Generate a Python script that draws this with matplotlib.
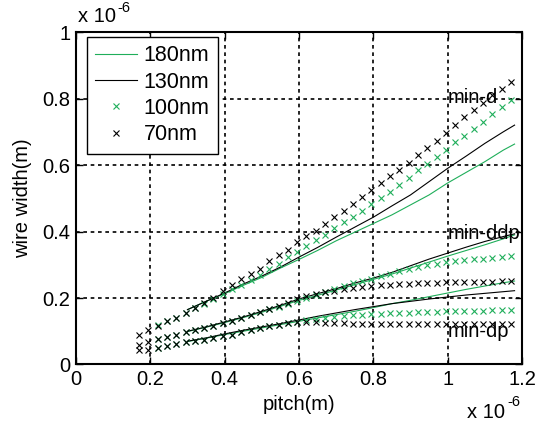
import numpy as np
import matplotlib
matplotlib.use("Agg")
import matplotlib.pyplot as plt

plt.rcParams['font.family'] = ['Liberation Sans', 'DejaVu Sans']

# ---------------- data (units of 1e-6 m) ----------------
pitch_70 = [0.17, 0.195, 0.22, 0.245, 0.27, 0.295, 0.32, 0.345, 0.37, 0.395,
            0.42, 0.445, 0.47, 0.495, 0.52, 0.545, 0.57, 0.595, 0.62, 0.645,
            0.67, 0.695, 0.72, 0.745, 0.77, 0.795, 0.82, 0.845, 0.87, 0.895,
            0.92, 0.945, 0.97, 0.995, 1.02, 1.045, 1.07, 1.095, 1.12, 1.145, 1.17]
pitch_100 = pitch_70[2:]

w70_min_d = [0.09, 0.105, 0.115, 0.13, 0.14, 0.155, 0.17, 0.185, 0.20, 0.22,
             0.24, 0.257, 0.272, 0.288, 0.31, 0.33, 0.345, 0.368, 0.385, 0.402,
             0.423, 0.445, 0.462, 0.482, 0.503, 0.524, 0.546, 0.566, 0.585, 0.607,
             0.63, 0.652, 0.673, 0.695, 0.72, 0.743, 0.765, 0.787, 0.81, 0.83, 0.85]
w70_min_ddp = [0.059, 0.068, 0.077, 0.083, 0.09, 0.097, 0.104, 0.11, 0.117, 0.125,
               0.132, 0.14, 0.15, 0.158, 0.166, 0.176, 0.186, 0.196, 0.205, 0.212,
               0.218, 0.222, 0.226, 0.23, 0.233, 0.235, 0.238, 0.24, 0.242, 0.243,
               0.244, 0.245, 0.246, 0.247, 0.247, 0.248, 0.248, 0.249, 0.249, 0.25, 0.25]
w70_min_dp = [0.044, 0.044, 0.05, 0.056, 0.062, 0.067, 0.071, 0.075, 0.08, 0.085,
              0.09, 0.097, 0.103, 0.11, 0.115, 0.12, 0.125, 0.128, 0.128, 0.127,
              0.126, 0.125, 0.124, 0.123, 0.123, 0.122, 0.122, 0.122, 0.122, 0.121,
              0.121, 0.121, 0.121, 0.121, 0.121, 0.121, 0.121, 0.121, 0.121, 0.121, 0.121]

w100_min_d = [0.12, 0.13, 0.14, 0.155, 0.17, 0.183, 0.197, 0.213,
              0.228, 0.24, 0.255, 0.27, 0.288, 0.303, 0.322, 0.337, 0.356, 0.374,
              0.39, 0.41, 0.428, 0.444, 0.462, 0.482, 0.5, 0.52, 0.54, 0.562,
              0.584, 0.604, 0.625, 0.646, 0.668, 0.688, 0.708, 0.73, 0.752, 0.773, 0.795]
w100_min_ddp = [0.077, 0.083, 0.09, 0.097, 0.104, 0.11, 0.117, 0.125,
                0.132, 0.14, 0.15, 0.158, 0.166, 0.174, 0.183, 0.192, 0.2, 0.21,
                0.218, 0.228, 0.236, 0.244, 0.251, 0.258, 0.265, 0.273, 0.281, 0.287,
                0.293, 0.298, 0.303, 0.307, 0.31, 0.313, 0.316, 0.318, 0.32, 0.323, 0.326]
w100_min_dp = [0.05, 0.056, 0.062, 0.067, 0.071, 0.075, 0.08, 0.085,
               0.09, 0.097, 0.103, 0.11, 0.115, 0.12, 0.125, 0.129, 0.133, 0.137,
               0.14, 0.143, 0.146, 0.148, 0.15, 0.152, 0.153, 0.154, 0.155, 0.156,
               0.157, 0.158, 0.159, 0.16, 0.16, 0.161, 0.162, 0.162, 0.163, 0.164, 0.165]

pitch_line = [0.30, 0.35, 0.40, 0.45, 0.50, 0.55, 0.60, 0.65, 0.70, 0.75,
              0.80, 0.85, 0.90, 0.95, 1.00, 1.05, 1.10, 1.15, 1.18]
w130_min_d = [0.165, 0.19, 0.215, 0.242, 0.266, 0.293, 0.323, 0.352, 0.383, 0.413,
              0.443, 0.477, 0.51, 0.55, 0.59, 0.627, 0.665, 0.70, 0.72]
w180_min_d = [0.165, 0.19, 0.213, 0.238, 0.262, 0.29, 0.316, 0.343, 0.372, 0.398,
              0.424, 0.45, 0.48, 0.51, 0.546, 0.578, 0.61, 0.645, 0.663]
w130_min_ddp = [0.10, 0.113, 0.128, 0.143, 0.16, 0.178, 0.197, 0.213, 0.228, 0.245,
                0.26, 0.277, 0.297, 0.317, 0.335, 0.353, 0.37, 0.385, 0.393]
w180_min_ddp = [0.099, 0.112, 0.126, 0.141, 0.157, 0.175, 0.193, 0.208, 0.224, 0.24,
                0.256, 0.272, 0.29, 0.308, 0.326, 0.343, 0.36, 0.378, 0.39]
w130_min_dp = [0.07, 0.08, 0.092, 0.103, 0.113, 0.123, 0.134, 0.145, 0.155, 0.165,
               0.174, 0.183, 0.19, 0.197, 0.203, 0.209, 0.214, 0.219, 0.222]
w180_min_dp = [0.069, 0.079, 0.09, 0.10, 0.11, 0.12, 0.13, 0.14, 0.15, 0.16,
               0.171, 0.183, 0.193, 0.204, 0.215, 0.226, 0.236, 0.246, 0.251]

legend_labels = ['180nm', '130nm', '100nm', '70nm']
group_labels = ['min-d', 'min-ddp', 'min-dp']
group_label_pos = [(1.0, 0.804), (1.0, 0.395), (1.0, 0.098)]

GREEN = '#1fae5a'
SCALE = 1e-6

def s(v):
    return np.asarray(v) * SCALE

fig = plt.figure(figsize=(5.35, 4.23), dpi=100)
ax = fig.add_axes([0.142, 0.1383, 0.8337, 0.786])

lw = 0.8
ms = 4.5
mew = 0.8
h180, = ax.plot(s(pitch_line), s(w180_min_d), color=GREEN, lw=lw)
ax.plot(s(pitch_line), s(w180_min_ddp), color=GREEN, lw=lw)
ax.plot(s(pitch_line), s(w180_min_dp), color=GREEN, lw=lw)
h130, = ax.plot(s(pitch_line), s(w130_min_d), color='black', lw=lw)
ax.plot(s(pitch_line), s(w130_min_ddp), color='black', lw=lw)
ax.plot(s(pitch_line), s(w130_min_dp), color='black', lw=lw)
h100, = ax.plot(s(pitch_100), s(w100_min_d), 'x', color=GREEN, ms=ms, mew=mew)
ax.plot(s(pitch_100), s(w100_min_ddp), 'x', color=GREEN, ms=ms, mew=mew)
ax.plot(s(pitch_100), s(w100_min_dp), 'x', color=GREEN, ms=ms, mew=mew)
h70, = ax.plot(s(pitch_70), s(w70_min_d), 'x', color='black', ms=ms, mew=mew)
ax.plot(s(pitch_70), s(w70_min_ddp), 'x', color='black', ms=ms, mew=mew)
ax.plot(s(pitch_70), s(w70_min_dp), 'x', color='black', ms=ms, mew=mew)

FS = 14.5
for lab, (px, py) in zip(group_labels, group_label_pos):
    ax.text(px * SCALE, py * SCALE, lab, fontsize=FS, ha='left', va='center', zorder=5)

ax.set_xlim(0, 1.2e-6)
ax.set_ylim(0, 1.0e-6)
xt = [0, 0.2, 0.4, 0.6, 0.8, 1.0, 1.2]
yt = [0, 0.2, 0.4, 0.6, 0.8, 1.0]
ax.set_xticks(s(xt))
ax.set_xticklabels(['0', '0.2', '0.4', '0.6', '0.8', '1', '1.2'])
ax.set_yticks(s(yt))
ax.set_yticklabels(['0', '0.2', '0.4', '0.6', '0.8', '1'])
ax.tick_params(direction='in', length=5, width=1.0, top=True, right=True,
               labelsize=FS, pad=4, colors='black')
ax.grid(True, color='black', linestyle=(0, (2.2, 2.2)), linewidth=1.2)
ax.set_axisbelow(True)
for sp in ax.spines.values():
    sp.set_linewidth(1.5)

ax.set_xlabel('pitch(m)', fontsize=FS)
ax.set_ylabel('wire width(m)', fontsize=FS)
ax.xaxis.set_label_coords(0.5, -0.092)
ax.yaxis.set_label_coords(-0.099, 0.5)

leg = ax.legend([h180, h130, h100, h70], legend_labels, loc='upper left',
                bbox_to_anchor=(0.0247, 0.985), borderaxespad=0, fontsize=15.5,
                frameon=True, fancybox=False, framealpha=1, edgecolor='black',
                handlelength=1.95, handletextpad=0.3, labelspacing=0.25,
                borderpad=0.38, markerscale=1.0)
leg.get_frame().set_linewidth(1.0)
leg.set_zorder(10)

fig.text(78 / 535, 1 - 16.5 / 423, 'x 10', fontsize=FS, ha='left', va='center')
fig.text(117 / 535, 1 - 1 / 423, '-6', fontsize=10.5, ha='left', va='top')
fig.text(467 / 535, 1 - 412 / 423, 'x 10', fontsize=FS, ha='left', va='center')
fig.text(507 / 535, 1 - 402 / 423, '-6', fontsize=10.5, ha='left', va='center')

fig.savefig('out.png', dpi=100)
